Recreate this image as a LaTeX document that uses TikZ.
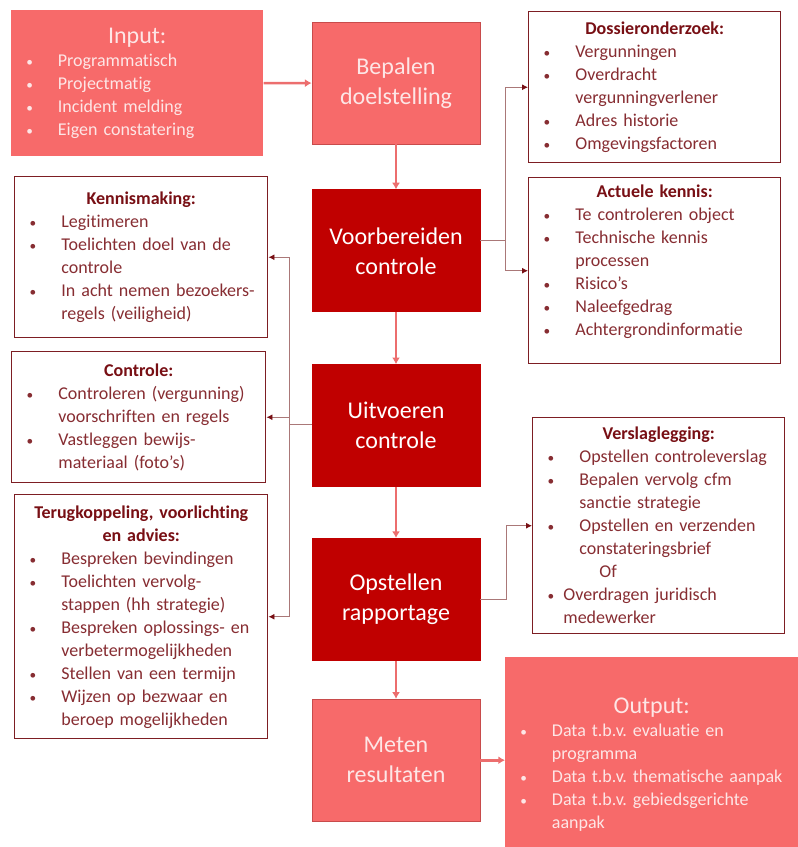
\documentclass[tikz,border=0pt]{standalone}
\usepackage{fontspec}
\setmainfont{Carlito}[Ligatures=NoCommon]
\usetikzlibrary{positioning,arrows.meta}
\definecolor{licht}{RGB}{247,106,106}
\definecolor{stapline}{RGB}{200,75,75}
\definecolor{donker}{RGB}{192,0,0}
\definecolor{tekstlicht}{RGB}{253,230,230}
\definecolor{kader}{RGB}{125,30,35}
\definecolor{kop}{RGB}{120,15,20}
\definecolor{tekst}{RGB}{135,45,50}
\definecolor{pijl}{RGB}{236,110,110}
\definecolor{lijn}{RGB}{170,120,120}
\newcommand\bul[2][35pt]{\par\hangindent=#1\hangafter=1\noindent\hbox to #1{\hspace{11.25pt}{\fontsize{10}{10}\selectfont\textbullet}\hfil}#2}
\newcommand\kop[1]{{\centering\bfseries\color{kop}#1\par}}
\begin{document}
\frenchspacing
\begin{tikzpicture}[x=0.75pt,y=-0.75pt,
	stap/.style={draw=stapline,line width=0.6pt,fill=licht,text=tekstlicht,minimum width=126pt,minimum height=91.5pt,align=center,font=\fontsize{18}{22.5}\selectfont},
	stapdonker/.style={stap,fill=donker,draw=donker,text=white},
	info/.style={draw=kader,line width=1.1pt,fill=white,anchor=north west,inner sep=0pt,align=left,text=tekst,font=\fontsize{13.5}{17.25}\selectfont},
	blok/.style={fill=licht,anchor=north west,inner sep=0pt,align=left,text=tekstlicht,font=\fontsize{13.5}{17.25}\selectfont},
	com/.style={-{Latex[length=5pt,width=6pt]},line width=2pt,draw=pijl},
	lnk/.style={-{Latex[length=4.5pt,width=4.5pt,color=kop]},line width=0.7pt,draw=lijn}]
	\useasboundingbox (0,0) rectangle (798,847);

	\node[stap] (bep) at (396,83) {Bepalen\\doelstelling};
	\node[stapdonker] (vbc) [below=33.75pt of bep] {Voorbereiden\\controle};
	\node[stapdonker] (uvc) [below=39pt of vbc] {Uitvoeren\\controle};
	\node[stapdonker] (opr) [below=38.25pt of uvc] {Opstellen\\rapportage};
	\node[stap] (mtr) [below=28.5pt of opr] {Meten\\resultaten};

	\node[blok,text width=189pt,minimum height=109.5pt] (inp) at (11,10) {{\centering\fontsize{18}{22}\selectfont Input:\par}
		\bul{Programmatisch}\bul{Projectmatig}\bul{Incident melding}\bul{Eigen constatering}\par};
	\node[blok,text width=219.75pt,minimum height=142.5pt] (out) at (505,657) {{\centering\fontsize{18}{22}\selectfont Output:\par}
		\bul{Data t.b.v. evaluatie en\newline programma}\bul{Data t.b.v. thematische aanpak}\bul{Data t.b.v. gebiedsgerichte\newline aanpak}\par\vspace{-18pt}};

	\node[info,text width=189pt,minimum height=113.25pt] (dos) at (528,11) {\kop{Dossieronderzoek:}
		\bul{Vergunningen}\bul{Overdracht\newline vergunningverlener}\bul{Adres historie}\bul{Omgevingsfactoren}\par};
	\node[info,text width=189pt,minimum height=139.5pt] (akn) at (528,177) {\kop{Actuele kennis:}
		\bul{Te controleren object}\bul{Technische kennis\newline processen}\bul{Risico’s}\bul{Naleefgedrag}\bul{Achtergrondinformatie}\par\vspace{14pt}};
	\node[info,text width=189pt,minimum height=162pt] (vsl) at (532,417) {\kop{Verslaglegging:}
		\bul{Opstellen controleverslag}\bul{Bepalen vervolg cfm\newline sanctie strategie}\bul{Opstellen en verzenden\newline constateringsbrief}
		\par\noindent\hspace*{50pt}Of\bul[23pt]{Overdragen juridisch\newline medewerker}\par};

	\node[info,text width=189.75pt,minimum height=120.75pt] (kms) at (14,176) {\kop{Kennismaking:}
		\bul{Legitimeren}\bul{Toelichten doel van de\newline controle}\bul{In acht nemen bezoekers-\newline regels (veiligheid)}\par};
	\node[info,text width=190.5pt,minimum height=98.25pt] (ctr) at (11,351) {\kop{Controle:}
		\bul{Controleren (vergunning)\newline voorschriften en regels}\bul{Vastleggen bewijs-\newline materiaal (foto’s)}\par};
	\node[info,text width=189.75pt,minimum height=183pt] (trg) at (14,494) {\kop{Terugkoppeling, voorlichting\\en advies:}
		\bul{Bespreken bevindingen}\bul{Toelichten vervolg-\newline stappen (hh strategie)}\bul{Bespreken oplossings- en\newline verbetermogelijkheden}\bul{Stellen van een termijn}\bul{Wijzen op bezwaar en\newline beroep mogelijkheden}\par};

	\coordinate (sr) at (505,240);
	\coordinate (sl) at (289,424);

	\draw[com] (inp) -- (bep);
	\draw[com] (bep) -- (vbc);
	\draw[com] (vbc) -- (uvc);
	\draw[com] (uvc) -- (opr);
	\draw[com] (opr) -- (mtr);
	\draw[com] (mtr.east) -- (mtr.east -| out.west);

	\draw[lnk,-] (vbc.east |- sr) -- (sr);
	\draw[lnk] (sr) |- (dos.west);
	\draw[lnk] (sr) |- (akn.west);
	\draw[lnk,-] (uvc.west |- sl) -- (sl);
	\draw[lnk] (sl) |- (kms.east);
	\draw[lnk] (sl) |- (ctr.east);
	\draw[lnk] (sl) |- (trg.east);
	\draw[lnk] (opr.east) -- ++(26,0) |- (vsl.west);
\end{tikzpicture}
\end{document}
